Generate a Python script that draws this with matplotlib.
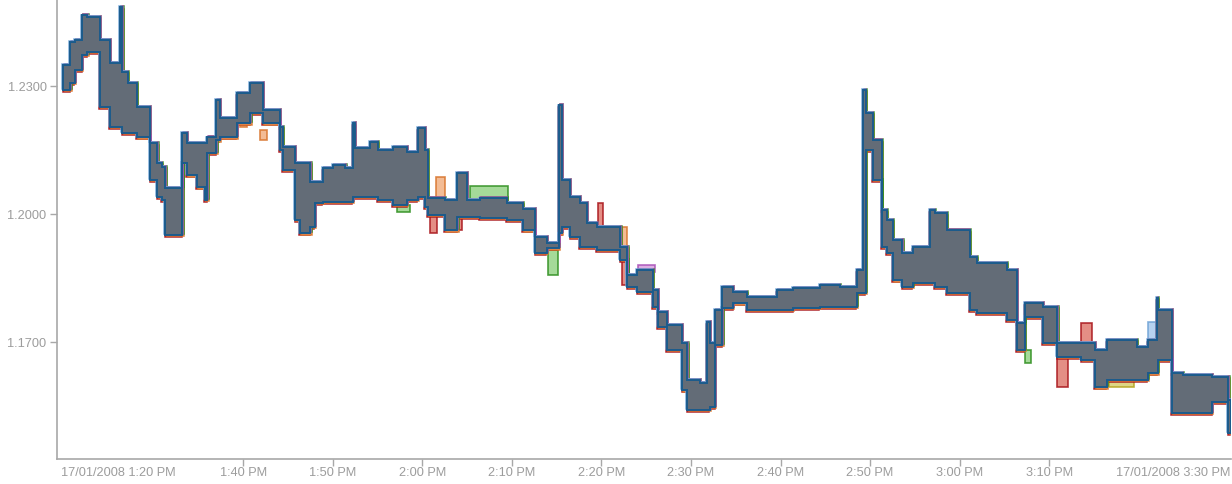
import numpy as np
import pandas as pd
import matplotlib
matplotlib.use('Agg')
import matplotlib.pyplot as plt
import matplotlib.dates as mdates
import matplotlib.transforms as mtransforms

plt.rcParams['font.family'] = ['Liberation Sans', 'DejaVu Sans']

# step start times, minutes after 13:00 on 17/01/2008
minutes = [19.9, 20.7, 21.2, 22.0, 22.6, 24.0, 25.1, 26.25, 26.5, 27.1,
           28.1, 29.6, 30.4, 30.9, 31.3, 33.2, 33.7, 34.8, 35.7, 36.0,
           37.0, 37.4, 39.3, 40.8, 42.2, 44.1, 44.4, 45.8, 46.3, 47.5,
           48.0, 48.9, 50.0, 51.4, 52.25, 52.5, 54.2, 55.0, 56.7, 58.3,
           59.5, 60.3, 60.6, 62.5, 63.9, 65.0, 66.4, 69.4, 71.2, 72.6,
           73.9, 75.25, 75.6, 76.5, 77.6, 78.4, 79.5, 82.1, 82.9, 84.0,
           85.7, 86.3, 87.3, 89.0, 89.6, 91.0, 91.75, 92.1, 92.7, 93.5,
           94.7, 96.2, 99.6, 101.4, 104.4, 106.6, 108.5, 109.25, 109.5, 110.3,
           111.3, 111.85, 112.5, 113.6, 114.75, 116.65, 117.2, 118.55, 121.1, 121.9,
           125.25, 126.4, 127.25, 129.3, 130.9, 133.6, 135.1, 136.4, 139.75, 141.0,
           142.0, 142.1, 143.7, 144.9, 148.2, 150.0]
end_minute = 150.25

high = [1.2349, 1.2403, 1.2408, 1.2466, 1.2462, 1.2408, 1.2354, 1.2485, 1.2333, 1.2307,
        1.2251, 1.2166, 1.2120, 1.2110, 1.2061, 1.2190, 1.2166, 1.2166, 1.2166, 1.2180,
        1.2267, 1.2225, 1.2284, 1.2307, 1.2244, 1.2204, 1.2157, 1.2120, 1.2120, 1.2075,
        1.2075, 1.2108, 1.2115, 1.2108, 1.2213, 1.2155, 1.2169, 1.2150, 1.2157, 1.2145,
        1.2202, 1.2150, 1.2037, 1.2033, 1.2096, 1.2033, 1.2037, 1.2026, 1.2012, 1.1946,
        1.1932, 1.2255, 1.2080, 1.2040, 1.2026, 1.1979, 1.1970, 1.1923, 1.1857, 1.1869,
        1.1822, 1.1770, 1.1740, 1.1698, 1.1611, 1.1604, 1.1747, 1.1698, 1.1775, 1.1829,
        1.1817, 1.1805, 1.1822, 1.1827, 1.1834, 1.1829, 1.1869, 1.2291, 1.2237, 1.2173,
        1.2009, 1.1986, 1.1939, 1.1909, 1.1923, 1.2009, 1.2002, 1.1962, 1.1899, 1.1885,
        1.1869, 1.1745, 1.1791, 1.1782, 1.1698, 1.1698, 1.1681, 1.1705, 1.1688, 1.1705,
        1.1803, 1.1775, 1.1627, 1.1623, 1.1618, 1.1564]

low = [1.2291, 1.2307, 1.2338, 1.2373, 1.2380, 1.2251, 1.2204, 1.2204, 1.2190, 1.2190,
       1.2180, 1.2080, 1.2040, 1.2033, 1.1951, 1.2120, 1.2091, 1.2063, 1.2033, 1.2143,
       1.2173, 1.2180, 1.2213, 1.2237, 1.2213, 1.2150, 1.2103, 1.1986, 1.1955, 1.1970,
       1.2026, 1.2028, 1.2028, 1.2028, 1.2040, 1.2040, 1.2040, 1.2033, 1.2021, 1.2033,
       1.2040, 1.2016, 1.1998, 1.1962, 1.1993, 1.1993, 1.1991, 1.1986, 1.1962, 1.1909,
       1.1920, 1.1955, 1.1970, 1.1946, 1.1923, 1.1923, 1.1916, 1.1892, 1.1829, 1.1817,
       1.1782, 1.1735, 1.1681, 1.1587, 1.1541, 1.1541, 1.1541, 1.1548, 1.1693, 1.1780,
       1.1791, 1.1775, 1.1775, 1.1780, 1.1782, 1.1782, 1.1815, 1.1815, 1.2150, 1.2080,
       1.1923, 1.1909, 1.1845, 1.1829, 1.1838, 1.1838, 1.1829, 1.1815, 1.1775, 1.1768,
       1.1752, 1.1681, 1.1759, 1.1698, 1.1665, 1.1658, 1.1594, 1.1611, 1.1611, 1.1627,
       1.1627, 1.1658, 1.1534, 1.1534, 1.1560, 1.1487]

# ranges where a single series sticks out of the common band
patch_series = ['green', 'orange', 'red', 'red', 'green', 'orange', 'red', 'orange',
                'orange', 'red', 'red', 'lightblue', 'green', 'olive', 'green', 'green',
                'purple', 'red', 'green']
patch_start = [65.3, 61.5, 60.8, 63.6, 74.0, 82.1, 79.6, 39.6,
               41.9, 133.6, 130.9, 141.0, 127.25, 136.7, 144.0, 57.2,
               84.1, 82.3, 117.0]
patch_end = [69.6, 62.5, 61.6, 64.4, 75.2, 82.9, 80.2, 40.4,
             42.7, 134.8, 132.1, 141.9, 128.0, 139.5, 144.6, 58.6,
             86.0, 82.9, 118.3]
patch_high = [1.2066, 1.2087, 1.2016, 1.1993, 1.1916, 1.1970, 1.2026, 1.2260,
              1.2197, 1.1745, 1.1665, 1.1747, 1.1681, 1.1611, 1.1587, 1.2021,
              1.1880, 1.1892, 1.1939]
patch_low = [1.2033, 1.2037, 1.1955, 1.1962, 1.1857, 1.1916, 1.1970, 1.2204,
             1.2173, 1.1698, 1.1594, 1.1705, 1.1651, 1.1594, 1.1534, 1.2005,
             1.1864, 1.1834, 1.1923]

tick_minutes = [19.6, 40, 50, 60, 70, 80, 90, 100, 110, 120, 130, 150.2]
tick_labels = ['17/01/2008 1:20 PM', '1:40 PM', '1:50 PM', '2:00 PM', '2:10 PM', '2:20 PM',
               '2:30 PM', '2:40 PM', '2:50 PM', '3:00 PM', '3:10 PM', '17/01/2008 3:30 PM']
y_ticks = [1.17, 1.20, 1.23]

edge_colors = {'red': '#a8141a', 'orange': '#d8742c', 'green': '#2f8f1f',
               'purple': '#a850b8', 'lightblue': '#6fa3d6', 'olive': '#b5a420'}
face_colors = {'red': '#e07a70', 'orange': '#f2b183', 'green': '#95d487',
               'purple': '#d7a0de', 'lightblue': '#a9cbee', 'olive': '#d8cf70'}

base = pd.Timestamp('2008-01-17 13:00')


def to_num(m):
    return mdates.date2num(base + pd.to_timedelta(np.asarray(m, dtype=float), unit='m'))


def step_polygon(edges, hi, lo):
    xs = np.repeat(edges, 2)[1:-1]
    return (np.concatenate([xs, xs[::-1]]),
            np.concatenate([np.repeat(hi, 2), np.repeat(lo, 2)[::-1]]))


fig = plt.figure(figsize=(12.32, 4.84), dpi=100)
ax = fig.add_axes([57 / 1232, 25 / 484, 1174 / 1232, 459 / 484])

edges = to_num(minutes + [end_minute])
px, py = step_polygon(edges, np.array(high), np.array(low))

# single series sticking out
for s, t0, t1, h, l in zip(patch_series, patch_start, patch_end, patch_high, patch_low):
    qx, qy = step_polygon(to_num([t0, t1]), np.array([h]), np.array([l]))
    ax.fill(qx, qy, facecolor=face_colors[s], edgecolor=edge_colors[s], lw=1.2, alpha=0.85, zorder=1)

# colored fringes of the overlapping series
offsets = [('red', -0.4, -1.3), ('orange', 0.9, -0.9), ('green', 0.9, 0.7),
           ('purple', 0.5, 1.0), ('lightblue', -0.7, 0.6)]
for s, dx, dy in offsets:
    tr = ax.transData + mtransforms.ScaledTranslation(dx / 72, dy / 72, fig.dpi_scale_trans)
    ax.fill(px, py, facecolor=face_colors[s], edgecolor=edge_colors[s], lw=1.1,
            alpha=0.9, transform=tr, zorder=2)

ax.fill(px, py, facecolor='#636c77', edgecolor='#1b5b8c', lw=1.4, zorder=3)

ax.set_xlim(to_num([19.2, 150.3]))
ax.set_ylim(1.1426, 1.2502)

ax.set_xticks(to_num(tick_minutes))
ax.set_xticklabels(tick_labels)
ax.set_yticks(y_ticks)
ax.set_yticklabels(['%.4f' % v for v in y_ticks])

grey = '#a8a8a8'
text_grey = '#9c9c9c'
for side in ['top', 'right']:
    ax.spines[side].set_visible(False)
for side in ['left', 'bottom']:
    ax.spines[side].set_color(grey)
    ax.spines[side].set_linewidth(1.2)
ax.tick_params(axis='both', colors=grey, labelcolor=text_grey, labelsize=9.2,
               length=5, width=1)
ax.tick_params(axis='x', pad=0.4)
ax.tick_params(axis='y', pad=2.5)

# end labels sit inside the axis range, without tick marks
xlabels = ax.get_xticklabels()
xlabels[0].set_horizontalalignment('left')
xlabels[-1].set_horizontalalignment('right')
major = ax.xaxis.get_major_ticks()
major[0].tick1line.set_visible(False)
major[-1].tick1line.set_visible(False)

fig.savefig('out.png', dpi=100)
